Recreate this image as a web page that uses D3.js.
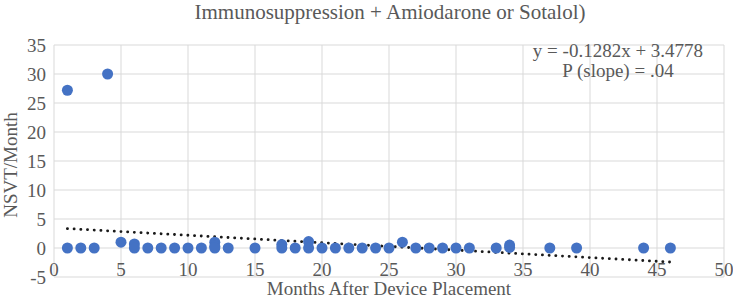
<!DOCTYPE html>
<html>
<head>
<meta charset="utf-8">
<script src="https://cdn.jsdelivr.net/npm/d3@7"></script>
<style>
  body { margin: 0; background: #fff; }
  text { font-family: "Liberation Serif", "DejaVu Serif", serif; fill: #595959; }
</style>
</head>
<body>
<div id="chart"></div>
<script>
var months = [1, 1, 2, 3, 4, 5, 6, 6, 7, 8, 9, 10, 11, 12, 12, 12, 13, 15, 17, 17, 18, 19, 19,
              20, 21, 22, 23, 24, 25, 26, 27, 28, 29, 30, 31, 33, 34, 34, 37, 39, 44, 46];
var nsvt = [27.2, 0, 0, 0, 30, 1, 0.7, 0, 0, 0, 0, 0, 0, 1, 0.3, 0, 0, 0, 0.6, 0, 0, 1.1, 0,
            0, 0, 0, 0, 0, 0, 1, 0, 0, 0, 0, 0, 0, 0.5, 0.1, 0, 0, 0, 0];
var xTicks = [0, 5, 10, 15, 20, 25, 30, 35, 40, 45, 50];
var yTicks = [-5, 0, 5, 10, 15, 20, 25, 30, 35];
var trendSlope = -0.1282;
var trendIntercept = 3.4778;
var trendRange = [1, 46];

var w = 733, h = 299;
var margin = {left: 54, right: 9, top: 45, bottom: 22};

var svg = d3.select("#chart").append("svg")
    .attr("width", w)
    .attr("height", h);

var x = d3.scaleLinear().domain([0, 50]).range([margin.left, w - margin.right]);
var y = d3.scaleLinear().domain([-5, 35]).range([h - margin.bottom, margin.top]);

// gridlines
svg.selectAll(".hgrid")
    .data(yTicks)
    .enter().append("line")
    .attr("x1", x(0)).attr("x2", x(50))
    .attr("y1", function(d) { return y(d); })
    .attr("y2", function(d) { return y(d); })
    .attr("stroke", "#d9d9d9").attr("stroke-width", 1);

svg.selectAll(".vgrid")
    .data(xTicks)
    .enter().append("line")
    .attr("y1", y(-5)).attr("y2", y(35))
    .attr("x1", function(d) { return x(d); })
    .attr("x2", function(d) { return x(d); })
    .attr("stroke", "#d9d9d9").attr("stroke-width", 1);

// tick labels
svg.selectAll(".ylab")
    .data(yTicks)
    .enter().append("text")
    .attr("x", x(0) - 8)
    .attr("y", function(d) { return y(d) + 7; })
    .attr("text-anchor", "end")
    .style("font-size", "19px")
    .text(function(d) { return d; });

svg.selectAll(".xlab")
    .data(xTicks)
    .enter().append("text")
    .attr("x", function(d) { return x(d); })
    .attr("y", y(-5) - 1)
    .attr("text-anchor", "middle")
    .style("font-size", "19px")
    .text(function(d) { return d; });

// trendline
var line = d3.line()
    .x(function(d) { return x(d); })
    .y(function(d) { return y(trendSlope * d + trendIntercept); });

svg.append("path")
    .datum(trendRange)
    .attr("d", line)
    .attr("fill", "none")
    .attr("stroke", "#1a1a1a")
    .attr("stroke-width", 2.8)
    .attr("stroke-linecap", "round")
    .attr("stroke-dasharray", "0.1 6.6");

// points
svg.selectAll(".pt")
    .data(months)
    .enter().append("circle")
    .attr("cx", function(d) { return x(d); })
    .attr("cy", function(d, i) { return y(nsvt[i]); })
    .attr("r", 5.5)
    .attr("fill", "#4472c4");

// title (cut off)
svg.append("text")
    .attr("x", 390).attr("y", 19)
    .attr("text-anchor", "middle")
    .style("font-size", "21px")
    .text("Immunosuppression + Amiodarone or Sotalol)");

// axis titles
svg.append("text")
    .attr("transform", "translate(17," + 165 + ") rotate(-90)")
    .attr("text-anchor", "middle")
    .style("font-size", "19px")
    .text("NSVT/Month");

svg.append("text")
    .attr("x", 389).attr("y", 295)
    .attr("text-anchor", "middle")
    .style("font-size", "19px")
    .text("Months After Device Placement");

// equation
svg.append("text")
    .attr("x", 618).attr("y", 57)
    .attr("text-anchor", "middle")
    .style("font-size", "19px")
    .text("y = " + trendSlope + "x + " + trendIntercept);

svg.append("text")
    .attr("x", 618).attr("y", 77)
    .attr("text-anchor", "middle")
    .style("font-size", "19px")
    .text("P (slope) = .04");
</script>
</body>
</html>
